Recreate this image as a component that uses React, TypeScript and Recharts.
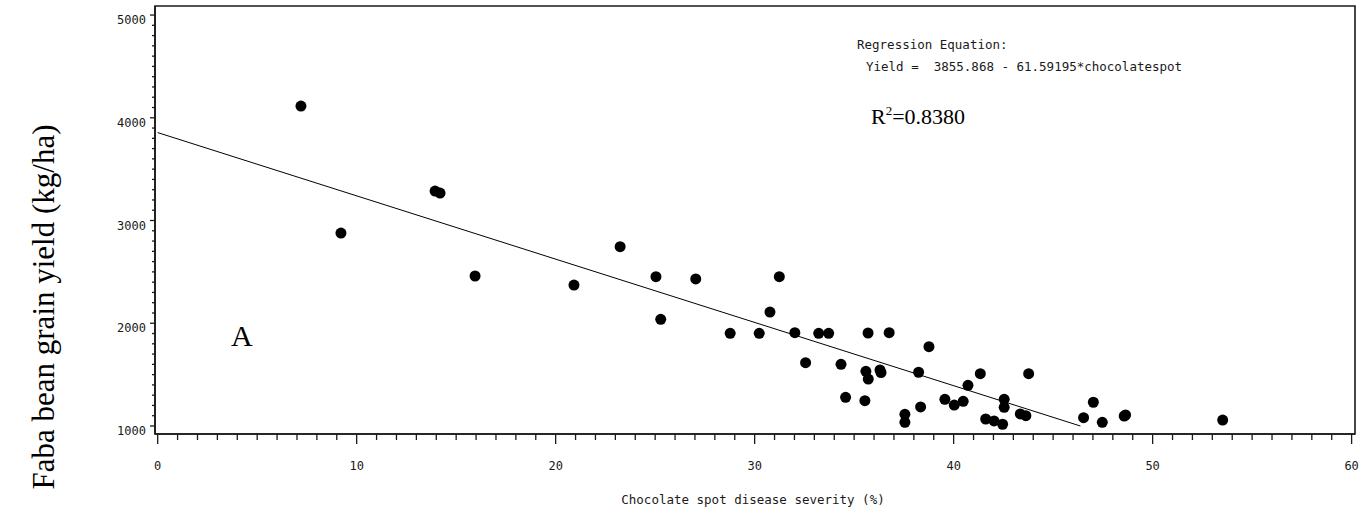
import {
  ScatterChart,
  Scatter,
  XAxis,
  YAxis,
  ZAxis,
  ReferenceLine,
  ReferenceArea,
} from "recharts";

// chocolate spot severity (%) and faba bean yield (kg/ha) per plot
const severity = [
  7.2, 9.21, 13.94, 14.19, 15.95, 20.92, 23.24, 25.04, 25.28, 27.04, 28.77,
  30.23, 30.77, 31.24, 32.02, 32.56, 33.22, 33.72, 34.34, 34.57, 35.54, 35.59,
  35.71, 35.7, 36.3, 36.35, 36.76, 37.55, 37.55, 38.24, 38.34, 38.76, 39.56,
  40.03, 40.48, 40.72, 41.34, 41.61, 42.03, 42.46, 42.54, 42.54, 43.35, 43.63,
  43.77, 46.53, 47.02, 47.47, 48.57, 48.64, 53.52,
];
const yieldKg = [
  4114, 2878, 3287, 3267, 2460, 2372, 2745, 2453, 2038, 2431, 1902, 1902, 2109,
  2453, 1908, 1616, 1902, 1902, 1600, 1279, 1246, 1532, 1457, 1905, 1545, 1520,
  1908, 1114, 1036, 1523, 1185, 1772, 1260, 1204, 1240, 1396, 1509, 1068, 1049,
  1017, 1260, 1182, 1117, 1100, 1509, 1081, 1231, 1036, 1097, 1107, 1058,
];

// fitted line: Yield = 3855.868 - 61.59195*chocolatespot
const intercept = 3855.868;
const slope = -61.59195;
const fitRange = [0, 46.37];

const xMajor = [0, 10, 20, 30, 40, 50, 60];
const yMajor = [1000, 2000, 3000, 4000, 5000];
const xTicks = Array.from({ length: 61 }, (_, i) => i);
const yTicks = Array.from({ length: 41 }, (_, i) => 1000 + i * 100);

const xDomain: [number, number] = [-0.135, 60.17];
const yDomain: [number, number] = [922, 5088];

const points = severity.map((s, i) => ({ s, y: yieldKg[i] }));

const mono = "'DejaVu Sans Mono', monospace";
const serif = "'Liberation Serif', 'Times New Roman', serif";
const ink = "#1a1a1a";

const XTick = (props: any) => {
  const { x, y, payload } = props;
  const major = xMajor.includes(payload.value);
  return (
    <g>
      <line x1={x} x2={x} y1={y} y2={y + (major ? 10 : 6)} stroke={ink} strokeWidth={1.3} />
      {major && (
        <text x={x} y={y + 36} textAnchor="middle" fontFamily={mono} fontSize={12} fill={ink}>
          {payload.value}
        </text>
      )}
    </g>
  );
};

const YTick = (props: any) => {
  const { x, y, payload } = props;
  const major = yMajor.includes(payload.value);
  return (
    <g>
      <line x1={x} x2={x - (major ? 5 : 3)} y1={y} y2={y} stroke={ink} strokeWidth={1.3} />
      {major && (
        <text x={x - 9} y={y + 9} textAnchor="end" fontFamily={mono} fontSize={12} fill={ink}>
          {payload.value}
        </text>
      )}
    </g>
  );
};

const Dot = (props: any) => <circle cx={props.cx} cy={props.cy} r={5.5} fill="#000" />;

export default function App() {
  return (
    <div style={{ position: "absolute", left: 0, top: 0, width: 1369, height: 513, background: "#fff" }}>
      <ScatterChart width={1369} height={513} margin={{ top: 6, right: 14, bottom: 0, left: 0 }}>
        <XAxis
          type="number"
          dataKey="s"
          domain={xDomain}
          allowDataOverflow
          ticks={xTicks}
          interval={0}
          tickSize={0}
          tickMargin={0}
          tick={<XTick />}
          tickLine={false}
          height={79}
          axisLine={{ stroke: ink, strokeWidth: 1.6 }}
        />
        <YAxis
          type="number"
          dataKey="y"
          domain={yDomain}
          allowDataOverflow
          ticks={yTicks}
          interval={0}
          tickSize={0}
          tickMargin={0}
          tick={<YTick />}
          tickLine={false}
          width={155}
          axisLine={{ stroke: ink, strokeWidth: 1.6 }}
        />
        <ZAxis range={[95, 95]} />
        <ReferenceArea
          x1={xDomain[0]}
          x2={xDomain[1]}
          y1={yDomain[0]}
          y2={yDomain[1]}
          fill="none"
          stroke={ink}
          strokeWidth={1.6}
        />
        <ReferenceLine
          segment={[
            { x: fitRange[0], y: intercept + slope * fitRange[0] },
            { x: fitRange[1], y: intercept + slope * fitRange[1] },
          ]}
          stroke="#000"
          strokeWidth={1}
        />
        <Scatter data={points} shape={<Dot />} isAnimationActive={false} />
      </ScatterChart>
      <svg
        width={1369}
        height={513}
        style={{ position: "absolute", left: 0, top: 0, pointerEvents: "none" }}
      >
        <text
          x={54}
          y={307}
          transform="rotate(-90 54 307)"
          textAnchor="middle"
          fontFamily={serif}
          fontSize={31}
          fill="#000"
        >
          Faba bean grain yield (kg/ha)
        </text>
        <text x={753} y={504} textAnchor="middle" fontFamily={mono} fontSize={12.5} fill={ink}>
          Chocolate spot disease severity (%)
        </text>
        <text x={857} y={49} fontFamily={mono} fontSize={12.5} fill={ink}>
          Regression Equation:
        </text>
        <text x={866} y={71} fontFamily={mono} fontSize={12.5} fill={ink} style={{ whiteSpace: "pre" }}>
          {"Yield =  3855.868 - 61.59195*chocolatespot"}
        </text>
        <text x={871} y={124} fontFamily={serif} fontSize={22} fill="#000">
          R<tspan fontSize={13} dy={-9}>2</tspan>
          <tspan dy={9}>=0.8380</tspan>
        </text>
        <text x={231} y={346} fontFamily={serif} fontSize={30} fill="#000">
          A
        </text>
      </svg>
    </div>
  );
}
